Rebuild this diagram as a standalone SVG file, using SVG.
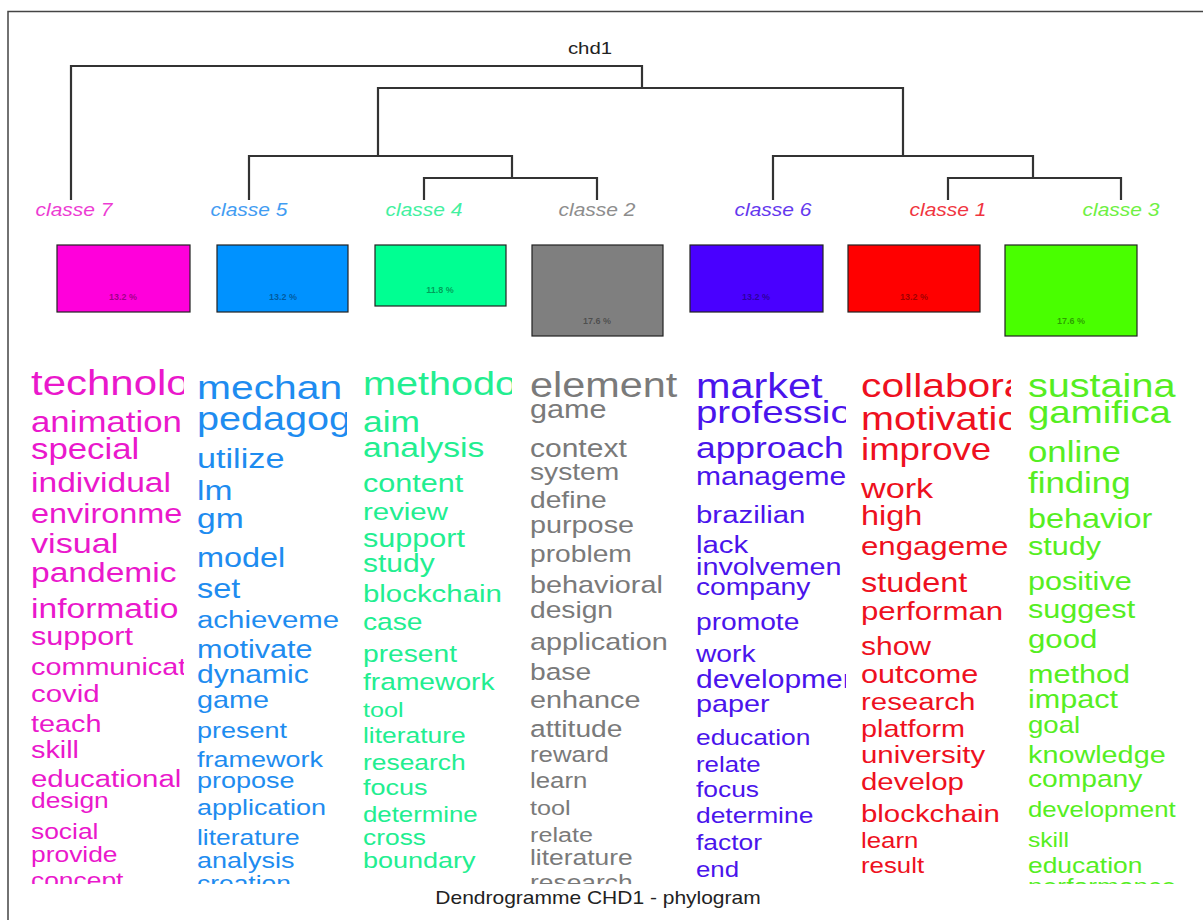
<svg xmlns="http://www.w3.org/2000/svg" width="1203" height="920" viewBox="0 0 1203 920">
<style>
text { font-family: "Liberation Sans", Arial, sans-serif; }
.lbl { font-style: italic; font-size: 17.5px; text-anchor: middle; opacity: 0.85; }
.pct { font-size: 9px; font-weight: bold; text-anchor: middle; fill: #000; fill-opacity: 0.4; }
.box { stroke: #222; stroke-width: 1.2; }
.dend { fill: none; stroke: #333; stroke-width: 2.2; }
.k7 { fill: #EA18CC; } .k5 { fill: #1E8CF0; } .k4 { fill: #22EE90; } .k2 { fill: #7A7A7A; }
.k6 { fill: #4A14EC; } .k1 { fill: #EE1020; } .k3 { fill: #55EE22; }
</style>
<defs>
<clipPath id="cp7"><rect x="20" y="350" width="164" height="534"/></clipPath>
<clipPath id="cp5"><rect x="190" y="350" width="157" height="534"/></clipPath>
<clipPath id="cp4"><rect x="356" y="350" width="156" height="534"/></clipPath>
<clipPath id="cp2"><rect x="522" y="350" width="160" height="534"/></clipPath>
<clipPath id="cp6"><rect x="688" y="350" width="158" height="534"/></clipPath>
<clipPath id="cp1"><rect x="854" y="350" width="157" height="534"/></clipPath>
<clipPath id="cp3"><rect x="1020" y="350" width="160" height="534"/></clipPath>
</defs>
<rect x="0" y="0" width="1203" height="920" fill="#fff"/>
<rect x="8" y="11.5" width="1200" height="920" fill="none" stroke="#444" stroke-width="1.5"/>

<g id="title">
<text transform="translate(590,54) scale(1.2,1)" text-anchor="middle" font-size="17" fill="#222">chd1</text>
<text transform="translate(598,904) scale(1.2,1)" text-anchor="middle" font-size="17.5" fill="#222">Dendrogramme CHD1 - phylogram</text>
</g>

<g id="connectors" class="dend">
<path d="M71,200 V66 H642 V88"/>
<path d="M378,156 V88 H903 V156"/>
<path d="M249,200 V156 H512 V178"/>
<path d="M424,200 V178 H597 V200"/>
<path d="M773,200 V156 H1033 V178"/>
<path d="M948,200 V178 H1121 V200"/>
</g>

<g id="classe7">
<text class="lbl k7" transform="translate(74,216) scale(1.2,1)">classe 7</text>
<rect class="box" x="57" y="245" width="133" height="67" fill="#FF00DB"/>
<text class="pct" x="123" y="300">13.2 %</text>
<g clip-path="url(#cp7)"><g class="k7" transform="translate(31,0) scale(1.2,1)">
<text y="395" font-size="35">technolo</text>
<text y="432" font-size="29">animation</text>
<text y="459" font-size="29">special</text>
<text y="492" font-size="28">individual</text>
<text y="523" font-size="27">environme</text>
<text y="553" font-size="28.5">visual</text>
<text y="582" font-size="28">pandemic</text>
<text y="618" font-size="28">informatio</text>
<text y="645" font-size="25.5">support</text>
<text y="675" font-size="24">communicat</text>
<text y="702" font-size="24.5">covid</text>
<text y="732" font-size="24">teach</text>
<text y="758" font-size="24">skill</text>
<text y="787" font-size="24.5">educational</text>
<text y="808" font-size="22">design</text>
<text y="839" font-size="22">social</text>
<text y="862" font-size="22">provide</text>
<text y="888" font-size="22">concept</text>
</g></g>
</g>

<g id="classe5">
<text class="lbl k5" transform="translate(249,216) scale(1.2,1)">classe 5</text>
<rect class="box" x="217" y="245" width="131" height="67" fill="#0092FF"/>
<text class="pct" x="283" y="300">13.2 %</text>
<g clip-path="url(#cp5)"><g class="k5" transform="translate(197,0) scale(1.2,1)">
<text y="399" font-size="34">mechan</text>
<text y="430" font-size="33">pedagog</text>
<text y="468" font-size="28.5">utilize</text>
<text y="500" font-size="28">lm</text>
<text y="528" font-size="28">gm</text>
<text y="567" font-size="27">model</text>
<text y="598" font-size="27">set</text>
<text y="628" font-size="24.5">achieveme</text>
<text y="658" font-size="25.5">motivate</text>
<text y="683" font-size="25">dynamic</text>
<text y="708" font-size="24">game</text>
<text y="738" font-size="22.5">present</text>
<text y="767" font-size="22.5">framework</text>
<text y="788" font-size="22.5">propose</text>
<text y="815" font-size="22.5">application</text>
<text y="845" font-size="22">literature</text>
<text y="868" font-size="22.5">analysis</text>
<text y="891" font-size="22">creation</text>
</g></g>
</g>

<g id="classe4">
<text class="lbl k4" transform="translate(424,216) scale(1.2,1)">classe 4</text>
<rect class="box" x="375" y="245" width="131" height="61" fill="#00FF92"/>
<text class="pct" x="440" y="293">11.8 %</text>
<g clip-path="url(#cp4)"><g class="k4" transform="translate(363,0) scale(1.2,1)">
<text y="395" font-size="33">methodo</text>
<text y="432" font-size="29.5">aim</text>
<text y="457" font-size="28">analysis</text>
<text y="492" font-size="25.5">content</text>
<text y="520" font-size="24.5">review</text>
<text y="547" font-size="25.5">support</text>
<text y="572" font-size="25">study</text>
<text y="602" font-size="24.5">blockchain</text>
<text y="630" font-size="23.5">case</text>
<text y="662" font-size="23.5">present</text>
<text y="690" font-size="23.5">framework</text>
<text y="717" font-size="21">tool</text>
<text y="743" font-size="22">literature</text>
<text y="770" font-size="22">research</text>
<text y="795" font-size="22.5">focus</text>
<text y="822" font-size="21.5">determine</text>
<text y="845" font-size="22">cross</text>
<text y="868" font-size="22.5">boundary</text>
</g></g>
</g>

<g id="classe2">
<text class="lbl k2" transform="translate(597,216) scale(1.2,1)">classe 2</text>
<rect class="box" x="532" y="245" width="131" height="91" fill="#7F7F7F"/>
<text class="pct" x="597" y="324">17.6 %</text>
<g clip-path="url(#cp2)"><g class="k2" transform="translate(530,0) scale(1.2,1)">
<text y="397" font-size="34.5">element</text>
<text y="418" font-size="25.5">game</text>
<text y="457" font-size="25">context</text>
<text y="480" font-size="23.5">system</text>
<text y="508" font-size="23.5">define</text>
<text y="533" font-size="24">purpose</text>
<text y="562" font-size="23.5">problem</text>
<text y="593" font-size="24">behavioral</text>
<text y="618" font-size="23.5">design</text>
<text y="650" font-size="24">application</text>
<text y="680" font-size="23.5">base</text>
<text y="708" font-size="24">enhance</text>
<text y="737" font-size="23.5">attitude</text>
<text y="762" font-size="21.5">reward</text>
<text y="788" font-size="21.5">learn</text>
<text y="815" font-size="21">tool</text>
<text y="842" font-size="21">relate</text>
<text y="865" font-size="22">literature</text>
<text y="890" font-size="22">research</text>
</g></g>
</g>

<g id="classe6">
<text class="lbl k6" transform="translate(773,216) scale(1.2,1)">classe 6</text>
<rect class="box" x="690" y="245" width="133" height="67" fill="#4900FF"/>
<text class="pct" x="756" y="300">13.2 %</text>
<g clip-path="url(#cp6)"><g class="k6" transform="translate(696,0) scale(1.2,1)">
<text y="398" font-size="34.5">market</text>
<text y="423" font-size="32">professio</text>
<text y="458" font-size="29.5">approach</text>
<text y="485" font-size="25">manageme</text>
<text y="523" font-size="24.5">brazilian</text>
<text y="553" font-size="24.5">lack</text>
<text y="575" font-size="24">involvemen</text>
<text y="595" font-size="23.5">company</text>
<text y="630" font-size="23.5">promote</text>
<text y="662" font-size="23.5">work</text>
<text y="688" font-size="25">developmen</text>
<text y="712" font-size="24">paper</text>
<text y="745" font-size="22">education</text>
<text y="772" font-size="21.5">relate</text>
<text y="797" font-size="22">focus</text>
<text y="823" font-size="22">determine</text>
<text y="850" font-size="22">factor</text>
<text y="877" font-size="21.5">end</text>
</g></g>
</g>

<g id="classe1">
<text class="lbl k1" transform="translate(948,216) scale(1.2,1)">classe 1</text>
<rect class="box" x="848" y="245" width="132" height="67" fill="#FF0000"/>
<text class="pct" x="914" y="300">13.2 %</text>
<g clip-path="url(#cp1)"><g class="k1" transform="translate(861,0) scale(1.2,1)">
<text y="397" font-size="34">collabora</text>
<text y="430" font-size="33">motivatio</text>
<text y="460" font-size="30.5">improve</text>
<text y="498" font-size="28.5">work</text>
<text y="525" font-size="27">high</text>
<text y="555" font-size="26">engageme</text>
<text y="592" font-size="27">student</text>
<text y="620" font-size="26">performan</text>
<text y="655" font-size="25">show</text>
<text y="683" font-size="25.5">outcome</text>
<text y="710" font-size="24.5">research</text>
<text y="737" font-size="24">platform</text>
<text y="763" font-size="24.5">university</text>
<text y="790" font-size="24.5">develop</text>
<text y="822" font-size="24.5">blockchain</text>
<text y="848" font-size="21.5">learn</text>
<text y="873" font-size="21.5">result</text>
</g></g>
</g>

<g id="classe3">
<text class="lbl k3" transform="translate(1121,216) scale(1.2,1)">classe 3</text>
<rect class="box" x="1005" y="245" width="132" height="91" fill="#49FF00"/>
<text class="pct" x="1071" y="324">17.6 %</text>
<g clip-path="url(#cp3)"><g class="k3" transform="translate(1028,0) scale(1.2,1)">
<text y="397" font-size="33">sustaina</text>
<text y="423" font-size="32">gamifica</text>
<text y="462" font-size="29">online</text>
<text y="493" font-size="29">finding</text>
<text y="528" font-size="27">behavior</text>
<text y="555" font-size="25.5">study</text>
<text y="590" font-size="25.5">positive</text>
<text y="618" font-size="25.5">suggest</text>
<text y="648" font-size="26">good</text>
<text y="683" font-size="25.5">method</text>
<text y="708" font-size="25.5">impact</text>
<text y="733" font-size="23">goal</text>
<text y="763" font-size="24">knowledge</text>
<text y="787" font-size="23.5">company</text>
<text y="817" font-size="21.5">development</text>
<text y="847" font-size="20.5">skill</text>
<text y="873" font-size="22">education</text>
<text y="894" font-size="22">performance</text>
</g></g>
</g>
</svg>
